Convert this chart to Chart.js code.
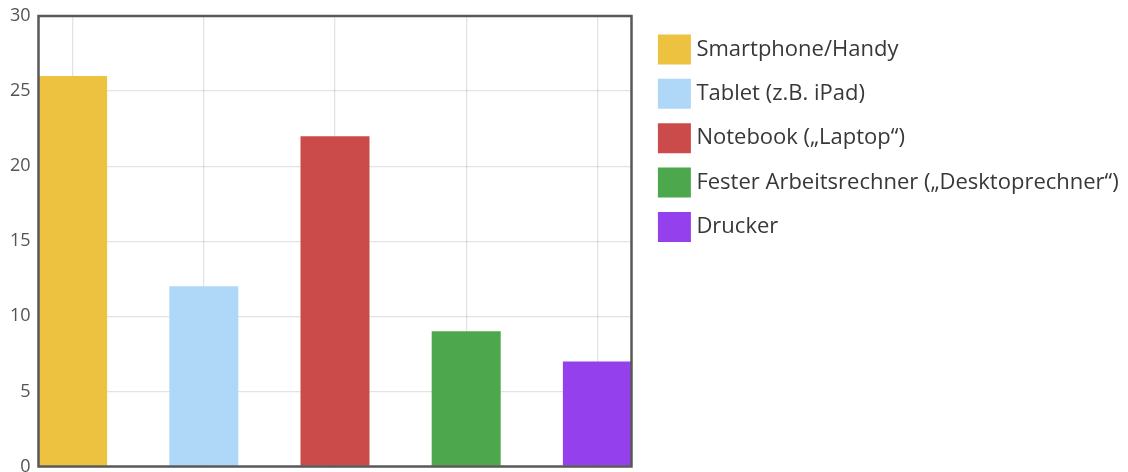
<!DOCTYPE html>
<html>
<head>
<meta charset="utf-8">
<script src="https://cdn.jsdelivr.net/npm/chart.js@4/dist/chart.umd.min.js"></script>
<style>
html,body{margin:0;padding:0;background:#fff;}
#wrap{width:1128px;height:472px;position:relative;}
</style>
</head>
<body>
<div id="wrap"><canvas id="c" width="1128" height="472"></canvas></div>
<script>
const categories = ["Smartphone/Handy", "Tablet (z.B. iPad)", "Notebook (\u201eLaptop\u201c)", "Fester Arbeitsrechner (\u201eDesktoprechner\u201c)", "Drucker"];
const values = [26, 12, 22, 9, 7];
const colors = ["#edc240", "#afd8f8", "#cb4b4b", "#4da74d", "#9440ed"];
const yTicks = [0, 5, 10, 15, 20, 25, 30];

const datasets = categories.map((name, i) => ({
  label: name,
  data: [{x: i, y: values[i]}],
  backgroundColor: colors[i],
  borderWidth: 0
}));

const framePlugin = {
  id: 'frame',
  afterDatasetsDraw(chart) {
    const a = chart.chartArea, ctx = chart.ctx;
    ctx.save();
    ctx.strokeStyle = '#585858';
    ctx.lineWidth = 2.5;
    ctx.strokeRect(a.left, a.top, a.right - a.left, a.bottom - a.top);
    ctx.restore();
  }
};

new Chart(document.getElementById('c'), {
  type: 'bar',
  data: { datasets },
  plugins: [framePlugin],
  options: {
    responsive: false,
    animation: false,
    devicePixelRatio: 1,
    layout: { padding: { top: 16, bottom: 5.5, left: 0, right: 0 } },
    datasets: { bar: { grouped: false, categoryPercentage: 1, barPercentage: 0.526 } },
    scales: {
      x: {
        type: 'linear',
        offset: false,
        min: -0.26,
        max: 4.26,
        afterBuildTicks(s) { s.ticks = categories.map((c, i) => ({ value: i })); },
        ticks: { display: false },
        grid: { offset: false, color: 'rgba(0,0,0,0.11)', lineWidth: 1.3, drawTicks: false },
        border: { display: false }
      },
      y: {
        min: 0,
        max: 30,
        afterBuildTicks(s) { s.ticks = yTicks.map(v => ({ value: v })); },
        afterFit(s) { s.width = 38.5; s.paddingTop = 0; s.paddingBottom = 0; },
        ticks: { color: '#545454', padding: 8, font: { family: 'Open Sans', size: 18 } },
        grid: { color: 'rgba(0,0,0,0.11)', lineWidth: 1.3, drawTicks: false },
        border: { display: false }
      },
      gap: {
        type: 'linear',
        position: 'right',
        display: true,
        afterFit(s) { s.width = 9.5; s.paddingTop = 0; s.paddingBottom = 0; },
        ticks: { display: false },
        grid: { display: false, drawTicks: false },
        border: { display: false }
      }
    },
    plugins: {
      tooltip: { enabled: false },
      legend: {
        position: 'right',
        align: 'start',
        maxWidth: 487,
        labels: {
          boxWidth: 22,
          boxHeight: 19,
          padding: 22.4,
          color: '#383838',
          font: { family: 'Open Sans', size: 22 },
          generateLabels(chart) {
            const items = Chart.defaults.plugins.legend.labels.generateLabels(chart);
            return items.map(it => Object.assign(it, { lineWidth: 11, strokeStyle: it.fillStyle }));
          }
        }
      }
    }
  }
});
</script>
</body>
</html>
